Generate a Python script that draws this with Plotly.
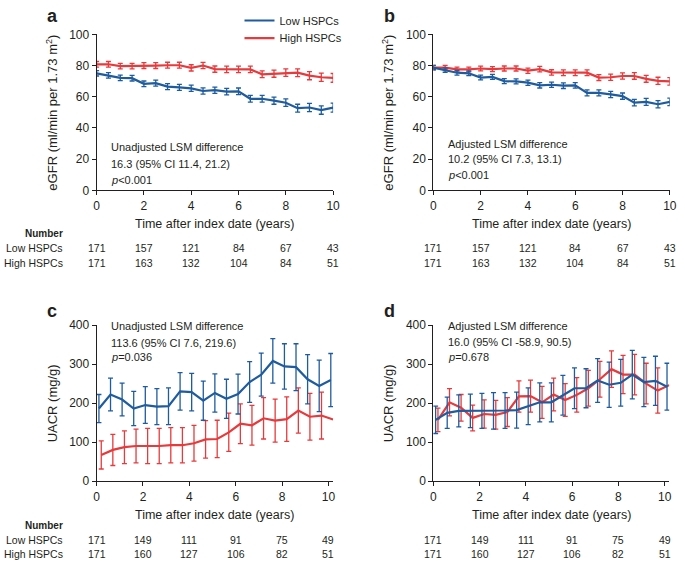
import plotly.graph_objects as go

# ---------------- data ----------------
t_ab = [0, 0.5, 1, 1.5, 2, 2.5, 3, 3.5, 4, 4.5, 5, 5.5, 6, 6.5, 7, 7.5, 8, 8.5, 9, 9.5, 10]
t_low_cd = [0.1, 0.6, 1.1, 1.6, 2.1, 2.6, 3.1, 3.6, 4.1, 4.6, 5.1, 5.6, 6.1, 6.6, 7.1, 7.6, 8.1, 8.6, 9.1, 9.6, 10.1]
t_high_cd = [0.2, 0.7, 1.2, 1.7, 2.2, 2.7, 3.2, 3.7, 4.2, 4.7, 5.2, 5.7, 6.2, 6.7, 7.2, 7.7, 8.2, 8.7, 9.2, 9.7, 10.2]

# panel a: unadjusted eGFR
a_low = [75.0, 73.7, 72.1, 71.9, 68.3, 68.7, 66.5, 66.0, 65.4, 63.7, 64.2, 63.3, 63.5, 58.7, 58.7, 57.5, 56.2, 52.7, 53.1, 51.5, 53.0]
a_low_err = [1.7, 1.7, 1.8, 1.8, 1.8, 1.9, 1.9, 1.9, 2.0, 2.0, 2.0, 2.1, 2.1, 2.2, 2.2, 2.3, 2.4, 2.5, 2.6, 2.7, 2.9]
a_high = [80.8, 80.8, 79.6, 79.6, 80.0, 80.0, 80.2, 80.2, 78.5, 80.0, 77.7, 77.5, 77.5, 77.5, 74.4, 74.8, 75.4, 75.4, 73.5, 72.5, 72.1]
a_high_err = [1.8, 1.8, 1.8, 1.8, 1.9, 1.9, 1.9, 1.9, 2.0, 2.0, 2.0, 2.1, 2.1, 2.1, 2.2, 2.3, 2.4, 2.5, 2.6, 2.7, 2.8]

# panel b: adjusted eGFR
b_low = [78.7, 77.1, 75.4, 75.0, 72.3, 72.7, 70.0, 69.8, 69.0, 67.3, 67.7, 67.1, 67.3, 62.5, 62.5, 61.5, 60.4, 56.2, 56.7, 55.2, 56.7]
b_low_err = [1.4, 1.4, 1.5, 1.5, 1.5, 1.6, 1.6, 1.6, 1.7, 1.7, 1.7, 1.8, 1.8, 1.9, 1.9, 2.0, 2.0, 2.1, 2.2, 2.3, 2.4]
b_high = [78.7, 78.7, 77.5, 77.5, 78.1, 77.7, 78.1, 78.1, 76.7, 77.7, 75.6, 75.4, 75.4, 75.4, 72.3, 72.5, 73.3, 73.3, 71.5, 70.2, 69.8]
b_high_err = [1.4, 1.4, 1.5, 1.5, 1.5, 1.6, 1.6, 1.6, 1.7, 1.7, 1.7, 1.8, 1.8, 1.8, 1.9, 2.0, 2.0, 2.1, 2.2, 2.3, 2.4]

# panel c: unadjusted UACR
c_low = [186, 222, 209, 186, 195, 191, 192, 230, 228, 206, 226, 211, 223, 254, 273, 308, 294, 292, 261, 244, 259]
c_low_err = [36, 42, 42, 44, 47, 46, 47, 48, 48, 50, 49, 50, 51, 52, 55, 57, 58, 60, 63, 66, 68]
c_high = [67, 80, 87, 90, 90, 90, 92, 92, 97, 107, 108, 125, 147, 143, 161, 155, 159, 181, 165, 168, 158]
c_high_err = [36, 40, 42, 43, 45, 45, 45, 45, 46, 48, 48, 49, 51, 51, 53, 55, 57, 58, 60, 60, None]

# panel d: adjusted UACR
d_low = [157, 175, 180, 180, 180, 180, 181, 182, 192, 202, 202, 220, 238, 238, 258, 247, 252, 273, 254, 257, 242]
d_low_err = [35, 40, 41, 43, 45, 47, 46, 46, 47, 50, 50, 51, 52, 50, 56, 58, 60, 62, 63, 63, 60]
d_high = [157, 202, 188, 162, 172, 170, 177, 217, 218, 202, 222, 208, 221, 238, 261, 287, 273, 273, 250, 232, 246]
d_high_err = [30, 35, 34, 33, 36, 37, 37, 40, 41, 41, 42, 42, 44, 46, 46, 47, 49, 52, 52, 58, None]

# numbers at risk
num_ticks = [0, 2, 4, 6, 8, 10]
egfr_n_low = [171, 157, 121, 84, 67, 43]
egfr_n_high = [171, 163, 132, 104, 84, 51]
uacr_n_low = [171, 149, 111, 91, 75, 49]
uacr_n_high = [171, 160, 127, 106, 82, 51]

stats_a = ["Unadjusted LSM difference", "16.3 (95% CI 11.4, 21.2)", "<i>p</i><0.001"]
stats_b = ["Adjusted LSM difference", "10.2 (95% CI 7.3, 13.1)", "<i>p</i><0.001"]
stats_c = ["Unadjusted LSM difference", "113.6 (95% CI 7.6, 219.6)", "<i>p</i>=0.036"]
stats_d = ["Adjusted LSM difference", "16.0 (95% CI -58.9, 90.5)", "<i>p</i>=0.678"]

# ---------------- style ----------------
BLUE = '#1f5c9e'
RED = '#e63a3c'
INK = '#231f20'
FONT = 'Liberation Sans, Arial, Helvetica, sans-serif'
W, H = 685, 573


def px(x):
    return x / W


def py(y):
    return 1 - y / H


fig = go.Figure()


def add_series(xs, ys, errs, color, xa, ya, name, legend, legend_id='legend'):
    ex = [x for x, e in zip(xs, errs) if e is not None]
    ey = [y for y, e in zip(ys, errs) if e is not None]
    ee = [e for e in errs if e is not None]
    fig.add_trace(go.Scatter(
        x=ex, y=ey, mode='markers', marker=dict(size=2, opacity=0, color=color),
        error_y=dict(type='data', array=ee, color=color, thickness=1.3, width=2.5),
        xaxis=xa, yaxis=ya, showlegend=False, hoverinfo='skip'))
    fig.add_trace(go.Scatter(
        x=xs, y=ys, mode='lines', line=dict(color=color, width=2.2),
        xaxis=xa, yaxis=ya, name=name, showlegend=legend, legend=legend_id))


add_series(t_ab, a_high, a_high_err, RED, 'x', 'y', 'High HSPCs', True, 'legend2')
add_series(t_ab, a_low, a_low_err, BLUE, 'x', 'y', 'Low HSPCs', True, 'legend')
add_series(t_ab, b_high, b_high_err, RED, 'x2', 'y2', 'High HSPCs', False)
add_series(t_ab, b_low, b_low_err, BLUE, 'x2', 'y2', 'Low HSPCs', False)
add_series(t_high_cd, c_high, c_high_err, RED, 'x3', 'y3', 'High HSPCs', False)
add_series(t_low_cd, c_low, c_low_err, BLUE, 'x3', 'y3', 'Low HSPCs', False)
add_series(t_high_cd, d_high, d_high_err, RED, 'x4', 'y4', 'High HSPCs', False)
add_series(t_low_cd, d_low, d_low_err, BLUE, 'x4', 'y4', 'Low HSPCs', False)

axis_common = dict(showline=True, linecolor=INK, linewidth=1, ticks='outside', ticklen=4,
                   tickwidth=1, tickcolor=INK, showgrid=False, zeroline=False,
                   tickfont=dict(size=12, family=FONT, color=INK), fixedrange=True)

left_dom = [px(95), px(335)]
right_dom = [px(436.7), px(676.7)]
top_dom = [py(188), py(28)]
bot_dom = [py(486), py(326)]

fig.update_layout(
    xaxis=dict(axis_common, domain=left_dom, range=[0, 10], tickvals=num_ticks, anchor='y'),
    yaxis=dict(axis_common, domain=top_dom, range=[0, 100], dtick=20, anchor='x'),
    xaxis2=dict(axis_common, domain=right_dom, range=[0, 10], tickvals=num_ticks, anchor='y2'),
    yaxis2=dict(axis_common, domain=top_dom, range=[0, 100], dtick=20, anchor='x2'),
    xaxis3=dict(axis_common, domain=left_dom, range=[0, 10.2], tickvals=num_ticks, anchor='y3'),
    yaxis3=dict(axis_common, domain=bot_dom, range=[0, 400], dtick=100, anchor='x3'),
    xaxis4=dict(axis_common, domain=[px(436.7), px(676.2)], range=[0, 10.2], tickvals=num_ticks, anchor='y4'),
    yaxis4=dict(axis_common, domain=bot_dom, range=[0, 400], dtick=100, anchor='x4'),
)

ann = []


def text(x, y, s, size=11, xanchor='left', xref='paper', bold=False, angle=0):
    ann.append(dict(x=x, y=y, xref=xref, yref='paper', text=('<b>%s</b>' % s) if bold else s,
                    showarrow=False, xanchor=xanchor, yanchor='middle', textangle=angle,
                    font=dict(size=size, family=FONT, color=INK)))


# panel letters
text(px(50), py(9), 'a', size=18, xanchor='center', bold=True)
text(px(392), py(9), 'b', size=18, xanchor='center', bold=True)
text(px(50), py(312), 'c', size=18, xanchor='center', bold=True)
text(px(392), py(312), 'd', size=18, xanchor='center', bold=True)

# y-axis titles
egfr_title = 'eGFR (ml/min per 1.73 m<sup>2</sup>)'
text(px(50), py(108), egfr_title, size=13, xanchor='center', angle=-90)
text(px(391), py(108), egfr_title, size=13, xanchor='center', angle=-90)
text(px(50), py(406), 'UACR (mg/g)', size=13, xanchor='center', angle=-90)
text(px(391), py(406), 'UACR (mg/g)', size=13, xanchor='center', angle=-90)

# x-axis titles
xt = 'Time after index date (years)'
text(px(215), py(222), xt, size=12.5, xanchor='center')
text(px(556.7), py(222), xt, size=12.5, xanchor='center')
text(px(215), py(521), xt, size=12.5, xanchor='center')
text(px(556.7), py(521), xt, size=12.5, xanchor='center')

# stats text
for lines, x0, ys in [(stats_a, 108, [144, 161, 177]), (stats_b, 450, [140, 156, 172]),
                      (stats_c, 108, [327, 344, 359]), (stats_d, 450, [327, 343, 359])]:
    for s, yy in zip(lines, ys):
        text(px(x0), py(yy), s, size=11)

# numbers at risk tables
for y_num, y_low, y_high, n_low, n_high in [(232, 247, 262, egfr_n_low, egfr_n_high),
                                            (531, 546, 561, uacr_n_low, uacr_n_high)]:
    text(px(63), py(y_num), 'Number', size=10, xanchor='right', bold=True)
    text(px(63), py(y_low), 'Low HSPCs', size=10.5, xanchor='right')
    text(px(63), py(y_high), 'High HSPCs', size=10.5, xanchor='right')
    xrefs = ('x', 'x2') if y_num < 300 else ('x3', 'x4')
    for xr in xrefs:
        for t, nl, nh in zip(num_ticks, n_low, n_high):
            text(t, py(y_low), str(nl), size=10.5, xanchor='center', xref=xr)
            text(t, py(y_high), str(nh), size=10.5, xanchor='center', xref=xr)

legend_common = dict(xanchor='left', yanchor='top', font=dict(size=11, family=FONT, color=INK),
                     bgcolor='rgba(0,0,0,0)', borderwidth=0, itemwidth=30)

fig.update_layout(
    annotations=ann,
    width=W, height=H,
    margin=dict(l=0, r=0, t=0, b=0),
    paper_bgcolor='white', plot_bgcolor='white',
    showlegend=True,
    legend=dict(legend_common, x=px(240), y=py(-1)),
    legend2=dict(legend_common, x=px(240), y=py(17)),
    font=dict(family=FONT, color=INK),
)

fig.write_html("out.html", config={'displayModeBar': False},
               post_script="document.body.style.margin='0';document.body.style.padding='0';document.body.style.overflow='hidden';")
